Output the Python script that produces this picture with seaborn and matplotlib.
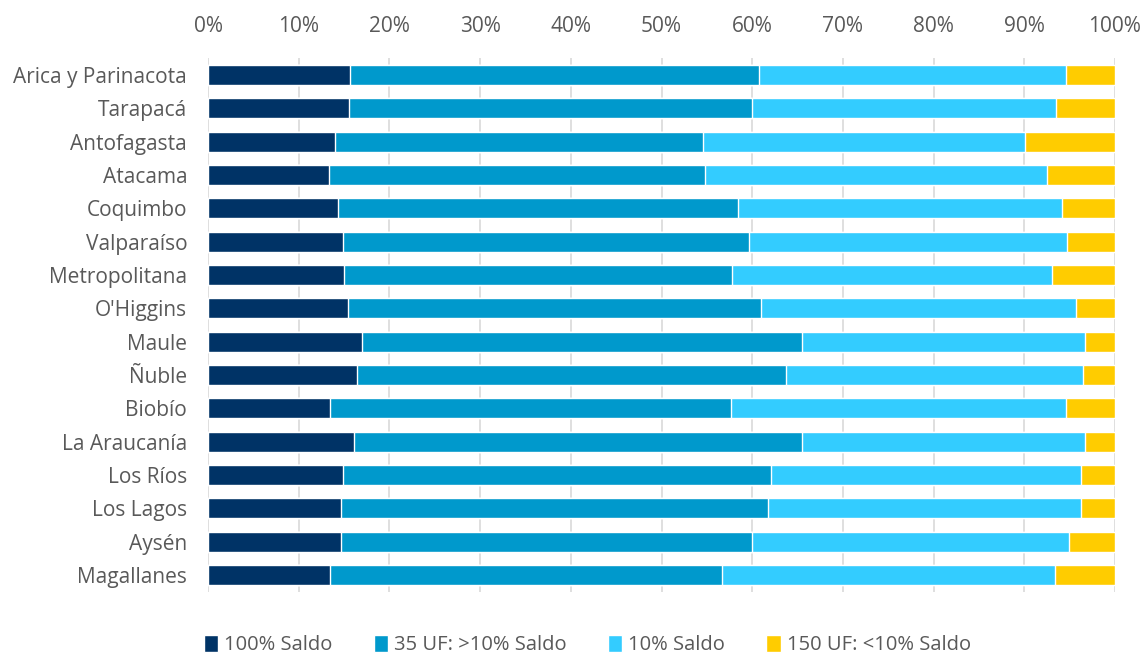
import matplotlib
matplotlib.use("Agg")
import matplotlib.pyplot as plt
import seaborn as sns
import pandas as pd
import numpy as np
from matplotlib.patches import Patch
from matplotlib.ticker import PercentFormatter

regions = ["Arica y Parinacota", "Tarapacá", "Antofagasta", "Atacama", "Coquimbo",
           "Valparaíso", "Metropolitana", "O'Higgins", "Maule", "Ñuble", "Biobío",
           "La Araucanía", "Los Ríos", "Los Lagos", "Aysén", "Magallanes"]

saldo_100 = [15.6, 15.55, 14.0, 13.3, 14.3, 14.9, 15.0, 15.4, 17.0, 16.4, 13.5, 16.1, 14.9, 14.7, 14.7, 13.4]
uf_35 = [45.2, 44.45, 40.6, 41.5, 44.1, 44.8, 42.75, 45.55, 48.45, 47.3, 44.2, 49.35, 47.2, 47.0, 45.35, 43.3]
saldo_10 = [33.8, 33.55, 35.5, 37.7, 35.8, 35.05, 35.25, 34.7, 31.25, 32.75, 36.9, 31.25, 34.2, 34.6, 34.95, 36.65]
uf_150 = [5.4, 6.45, 9.9, 7.5, 5.8, 5.25, 7.0, 4.35, 3.3, 3.55, 5.4, 3.3, 3.7, 3.7, 5.05, 6.65]

series = ["100% Saldo", "35 UF: >10% Saldo", "10% Saldo", "150 UF: <10% Saldo"]
colors = ["#003366", "#0099CC", "#33CCFF", "#FFCC00"]

df = pd.DataFrame({"region": regions, series[0]: saldo_100, series[1]: uf_35,
                   series[2]: saldo_10, series[3]: uf_150})
cum = df[series].cumsum(axis=1)
cum = cum.div(cum[series[-1]], axis=0) * 100
cum["region"] = regions

sns.set_theme(style="white")
plt.rcParams["font.family"] = ["Open Sans", "DejaVu Sans"]
text_col = "#595959"

fig = plt.figure(figsize=(11.43, 6.54), dpi=100)
ax = fig.add_axes([0.182, 0.095, 0.7935, 0.816])

# stacked bars: draw cumulative totals from the widest to the narrowest
for s, c in reversed(list(zip(series, colors))):
    sns.barplot(data=cum, x=s, y="region", orient="h", color=c, width=0.6,
                saturation=1, ax=ax, zorder=3)

ax.set_xlim(0, 100)
ax.set_ylim(15.5, -0.5)
ax.set_xticks(np.arange(0, 101, 10))
ax.xaxis.set_major_formatter(PercentFormatter(decimals=0))
ax.xaxis.tick_top()
ax.xaxis.set_label_position("top")
ax.set_xlabel("")
ax.set_ylabel("")
ax.grid(axis="x", color="#D9D9D9", linewidth=1.2, zorder=0)
for sp in ax.spines.values():
    sp.set_visible(False)
ax.tick_params(axis="x", length=0, pad=15, labelsize=15, colors=text_col)
ax.tick_params(axis="y", length=0, pad=15, labelsize=15, colors=text_col)

handles = [Patch(facecolor=c, label=s) for s, c in zip(series, colors)]
leg = fig.legend(handles=handles, loc="lower center", bbox_to_anchor=(0.514, -0.03),
                 ncol=4, frameon=False, fontsize=14.5, handlelength=0.7,
                 handleheight=0.9, handletextpad=0.3, columnspacing=2.05)
for t in leg.get_texts():
    t.set_color(text_col)

fig.savefig("out.png", dpi=100)
